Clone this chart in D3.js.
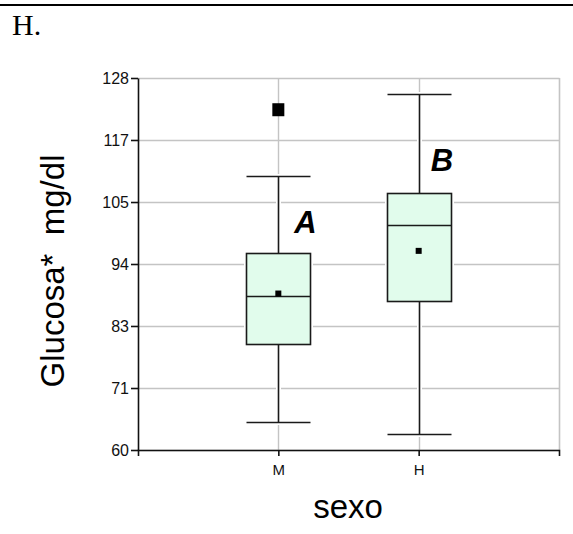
<!DOCTYPE html>
<html>
<head>
<meta charset="utf-8">
<script src="https://cdn.jsdelivr.net/npm/d3@7"></script>
<style>
  html, body { margin: 0; padding: 0; background: #fff; }
  svg { display: block; }
</style>
</head>
<body>
<script>
// ---- data ----
const categories   = ["M", "H"];
const whiskerLow   = [65.1, 63.0];
const q1           = [79.3, 87.3];
const median       = [88.1, 101.1];
const q3           = [96.0, 106.9];
const whiskerHigh  = [110.0, 125.1];
const means        = [88.6, 96.4];
const outlierCat   = ["M"];
const outlierValue = [122.2];
const groupLetters = ["A", "B"];
const yTicks       = [60, 71.33, 82.67, 94, 105.33, 116.67, 128];
const yTickLabels  = ["60", "71", "83", "94", "105", "117", "128"];
const yTitle = "Glucosa*\u00a0 mg/dl";
const xTitle = "sexo";
const panelLabel = "H.";

(function () {
// ---- layout ----
const W = 573, H = 534;
const mLeft = 138, mRight = 559, mTop = 78, mBottom = 450;
const sans = "'Liberation Sans', Arial, sans-serif";

const svg = d3.select("body").append("svg").attr("width", W).attr("height", H);

// panel border & label
svg.append("line").attr("x1", 0).attr("x2", W).attr("y1", 5).attr("y2", 5)
  .attr("stroke", "#000").attr("stroke-width", 2.2);
svg.append("text").attr("x", 12).attr("y", 35).text(panelLabel)
  .attr("font-family", "'Liberation Serif', 'Times New Roman', serif")
  .attr("font-size", 30).attr("fill", "#000");

const y = d3.scaleLinear().domain([60, 128]).range([mBottom, mTop]);
const x = d3.scalePoint().domain(categories).range([mLeft, mRight]).padding(1);

const grid = "#c4c4c4";
const g = svg.append("g");

// horizontal gridlines
g.selectAll("line.hg").data(yTicks).join("line").attr("class", "hg")
  .attr("x1", mLeft).attr("x2", mRight + 0.5)
  .attr("y1", d => Math.round(y(d)) + 0.5).attr("y2", d => Math.round(y(d)) + 0.5)
  .attr("stroke", grid).attr("stroke-width", 1.4);
// vertical gridlines
g.selectAll("line.vg").data(categories).join("line").attr("class", "vg")
  .attr("x1", d => Math.round(x(d)) + 0.5).attr("x2", d => Math.round(x(d)) + 0.5)
  .attr("y1", mTop).attr("y2", mBottom)
  .attr("stroke", grid).attr("stroke-width", 1.4);
// right border
g.append("line").attr("x1", mRight + 0.5).attr("x2", mRight + 0.5)
  .attr("y1", mTop).attr("y2", mBottom)
  .attr("stroke", grid).attr("stroke-width", 1.6);

// boxes
const half = 32;
const boxes = categories.map((c, i) => ({
  c, lo: whiskerLow[i], q1: q1[i], med: median[i], q3: q3[i], hi: whiskerHigh[i], mean: means[i]
}));
const px = v => Math.round(v) + 0.5;

function drawBox(layer, stroke, sw, fill) {
  boxes.forEach(b => {
    const cx = px(x(b.c));
    layer.append("line").attr("x1", cx).attr("x2", cx).attr("y1", px(y(b.hi))).attr("y2", px(y(b.q3)))
      .attr("stroke", stroke).attr("stroke-width", sw);
    layer.append("line").attr("x1", cx).attr("x2", cx).attr("y1", px(y(b.q1))).attr("y2", px(y(b.lo)))
      .attr("stroke", stroke).attr("stroke-width", sw);
    layer.append("line").attr("x1", cx - half).attr("x2", cx + half).attr("y1", px(y(b.hi))).attr("y2", px(y(b.hi)))
      .attr("stroke", stroke).attr("stroke-width", sw);
    layer.append("line").attr("x1", cx - half).attr("x2", cx + half).attr("y1", px(y(b.lo))).attr("y2", px(y(b.lo)))
      .attr("stroke", stroke).attr("stroke-width", sw);
    layer.append("rect").attr("x", cx - half).attr("width", 2 * half)
      .attr("y", px(y(b.q3))).attr("height", px(y(b.q1)) - px(y(b.q3)))
      .attr("fill", fill).attr("stroke", stroke).attr("stroke-width", sw);
    layer.append("line").attr("x1", cx - half).attr("x2", cx + half).attr("y1", px(y(b.med))).attr("y2", px(y(b.med)))
      .attr("stroke", stroke).attr("stroke-width", sw);
  });
}
drawBox(svg.append("g"), "#fff", 5, "#fff");
drawBox(svg.append("g"), "#1a1a1a", 1.6, "#e1fcec");

// means
svg.append("g").selectAll("rect").data(boxes).join("rect")
  .attr("x", d => x(d.c) - 3).attr("y", d => y(d.mean) - 3)
  .attr("width", 6).attr("height", 6).attr("fill", "#000");

// outliers
svg.append("g").selectAll("rect").data(outlierCat.map((c, i) => ({ c, v: outlierValue[i] }))).join("rect")
  .attr("x", d => x(d.c) - 6).attr("y", d => y(d.v) - 6.5)
  .attr("width", 12).attr("height", 13).attr("fill", "#000");

// group letters with white background
const letterOffsets = [16, 12];
const letterLift = [20, 22];
boxes.forEach((b, i) => {
  const lg = svg.append("g");
  const t = lg.append("text")
    .attr("x", x(b.c) + letterOffsets[i]).attr("y", y(b.q3) - letterLift[i])
    .attr("font-family", sans).attr("font-weight", "bold").attr("font-style", "italic")
    .attr("font-size", 31).attr("fill", "#000").text(groupLetters[i]);
  const bb = t.node().getBBox();
  lg.insert("rect", "text").attr("x", bb.x - 4).attr("y", bb.y - 1)
    .attr("width", bb.width + 6).attr("height", bb.height + 2).attr("fill", "#fff");
});

// axes
const yAxis = d3.axisLeft(y).tickValues(yTicks).tickFormat((d, i) => yTickLabels[i])
  .tickSize(7).tickSizeOuter(0).tickPadding(2);
const ya = svg.append("g").attr("transform", `translate(${mLeft},0)`).call(yAxis);
ya.attr("font-size", 16).attr("font-family", sans);
ya.selectAll("text").attr("fill", "#111");
ya.selectAll("line, path").attr("stroke", "#111").attr("stroke-width", 1.6);

const xAxis = d3.axisBottom(x).tickSize(6).tickSizeOuter(6).tickPadding(8);
const xa = svg.append("g").attr("transform", `translate(0,${mBottom})`).call(xAxis);
xa.attr("font-size", 15).attr("font-family", sans);
xa.selectAll("text").attr("fill", "#111");
xa.selectAll("line, path").attr("stroke", "#111").attr("stroke-width", 1.6);

// titles
svg.append("text").attr("transform", "translate(64,271) rotate(-90)")
  .attr("text-anchor", "middle").attr("font-family", sans).attr("font-size", 33)
  .attr("fill", "#000").text(yTitle);
svg.append("text").attr("x", 348).attr("y", 518)
  .attr("text-anchor", "middle").attr("font-family", sans).attr("font-size", 33)
  .attr("fill", "#000").text(xTitle);
})();
</script>
</body>
</html>
